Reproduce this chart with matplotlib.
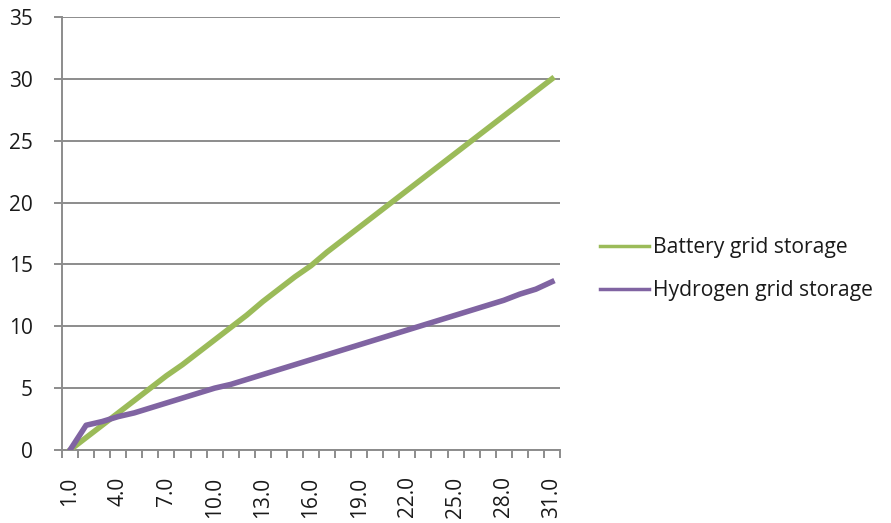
import matplotlib
matplotlib.use("Agg")
import matplotlib.pyplot as plt
import numpy as np

# daily values, categories 1.0 .. 31.0
days = [f"{d:.1f}" for d in range(1, 32)]
battery = [0.0, 1.0, 2.0, 3.0, 4.0, 5.0, 6.0, 6.9, 7.9, 8.9, 9.9, 10.9, 12.0, 13.0, 14.0,
           14.9, 16.0, 17.0, 18.0, 19.0, 20.0, 21.0, 22.0, 23.0, 24.0, 25.0, 26.0, 27.0,
           28.0, 29.0, 30.0]
hydrogen = [0.0, 2.0, 2.3, 2.7, 3.0, 3.4, 3.8, 4.2, 4.6, 5.0, 5.3, 5.7, 6.1, 6.5, 6.9,
            7.3, 7.7, 8.1, 8.5, 8.9, 9.3, 9.7, 10.1, 10.5, 10.9, 11.3, 11.7, 12.1, 12.6,
            13.0, 13.6]
y_ticks = [0, 5, 10, 15, 20, 25, 30, 35]

GRID = '#8c8c8c'
TXT = '#1a1a1a'
plt.rcParams['font.family'] = ['Open Sans', 'DejaVu Sans']

fig = plt.figure(figsize=(8.91, 5.23), dpi=100)
ax = fig.add_axes([0.0696, 0.1396, 0.5589, 0.8279])
x = np.arange(len(days))
l1, = ax.plot(x, battery, color='#9bbb59', lw=4, solid_joinstyle='round', zorder=3)
l2, = ax.plot(x, hydrogen, color='#8064a2', lw=4, solid_joinstyle='round', zorder=4)

ax.set_xlim(-0.5, len(days) - 0.5)
ax.set_ylim(0, 35)
ax.set_yticks(y_ticks)
ax.set_yticklabels([str(v) for v in y_ticks], fontsize=15, color=TXT)
ax.yaxis.grid(True, color=GRID, lw=1.4)
ax.set_axisbelow(True)
ax.tick_params(axis='y', length=6, width=1.4, color=GRID, pad=15)

ax.set_xticks(x[::3])
ax.set_xticklabels(days[::3], rotation=90, fontsize=15, color=TXT)
ax.set_xticks(np.arange(len(days) + 1) - 0.5, minor=True)
ax.tick_params(axis='x', which='major', length=0, pad=19)
ax.tick_params(axis='x', which='minor', length=6, width=1.4, color=GRID)

for s in ('top', 'right'):
    ax.spines[s].set_visible(False)
for s in ('left', 'bottom'):
    ax.spines[s].set_color(GRID)
    ax.spines[s].set_linewidth(1.4)

fig.legend([l1, l2], ['Battery grid storage', 'Hydrogen grid storage'],
           loc='center left', bbox_to_anchor=(0.664, 0.485), frameon=False,
           fontsize=15.2, handlelength=2.3, handletextpad=0.2, labelspacing=1.05,
           borderaxespad=0, labelcolor=TXT)
for h in fig.legends[0].get_lines():
    h.set_linewidth(2.5)

fig.savefig('out.png', dpi=100)
